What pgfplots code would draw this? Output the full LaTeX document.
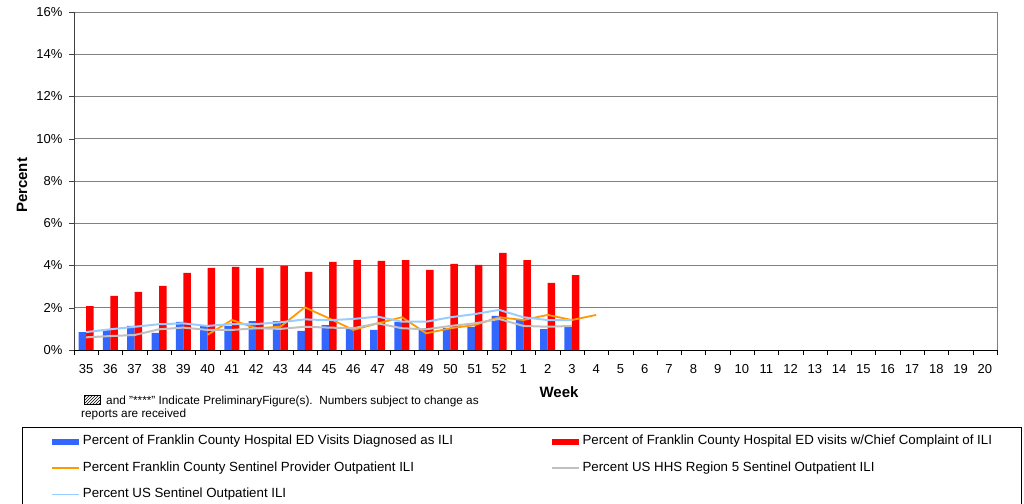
\documentclass[border=0pt]{standalone}
\usepackage{fontspec}
\setmainfont{Liberation Sans}
\usepackage{pgfplots}
\pgfplotsset{compat=1.18}
\usetikzlibrary{patterns}

\definecolor{edblue}{HTML}{3366FF}
\definecolor{edred}{HTML}{FF0000}
\definecolor{senorange}{HTML}{FF9900}
\definecolor{hhsgrey}{HTML}{C0C0C0}
\definecolor{usblue}{HTML}{99CCFF}
\definecolor{gridgrey}{HTML}{808080}

\begin{document}
\begin{tikzpicture}
\path[use as bounding box] (0,0) rectangle (1024pt,503pt);
\begin{axis}[
  at={(74pt,153pt)}, anchor=south west,
  scale only axis, width=923pt, height=338pt,
  xmin=-0.5, xmax=37.5, ymin=0, ymax=16,
  axis x line*=bottom, axis y line*=left,
  x axis line style={black, -}, y axis line style={black!75, -},
  xtick={0,...,37},
  xticklabels={35,36,37,38,39,40,41,42,43,44,45,46,47,48,49,50,51,52,1,2,3,4,5,6,7,8,9,10,11,12,13,14,15,16,17,18,19,20},
  major x tick style={draw=none},
  minor xtick={-0.5,0.5,...,37.5},
  minor tick length=5pt, major tick length=5pt,
  tick align=outside,
  minor x tick style={black},
  ytick={0,2,...,16},
  yticklabel={\pgfmathprintnumber{\tick}\%},
  major y tick style={black!75},
  ymajorgrids, major grid style={gridgrey, line width=0.8pt},
  extra x ticks={37.5}, extra x tick labels={},
  extra x tick style={grid=major, major grid style={gridgrey, line width=0.8pt}, major tick length=0pt},
  /pgf/number format/assume math mode=true,
  tick label style={font=\fontsize{13}{15}\selectfont},
  xticklabel style={yshift=-6pt},
  yticklabel style={xshift=-3pt},
  xlabel={\textbf{Week}},
  xlabel style={at={(axis description cs:0.5255,0)}, anchor=base, yshift=-47pt, font=\fontsize{15}{17}\selectfont},
  ylabel={\textbf{Percent}},
  ylabel style={at={(axis description cs:-0.05634,0.487)}, anchor=center, font=\fontsize{15}{17}\selectfont},
  legend columns=2,
  legend cell align=left,
  legend style={at={(-0.05634,-0.2278)}, anchor=north west, draw=black, line width=0.8pt,
    inner xsep=29pt, inner ysep=8pt, row sep=14pt,
    nodes={inner sep=0pt, text height=9.5pt, text depth=3pt, font=\fontsize{13.3}{15}\selectfont},
    /tikz/every odd column/.append style={column sep=3pt},
    /tikz/every even column/.append style={column sep=98pt}},
]
\addplot[ybar, bar width=7.5pt, bar shift=-3.75pt, fill=edblue, draw=none,
  legend image code/.code={\fill[edblue] (0pt,-3pt) rectangle (27pt,3pt);}]
  coordinates {(0,0.85)(1,0.95)(2,1.14)(3,0.81)(4,1.33)(5,1.14)(6,1.14)(7,1.37)(8,1.37)(9,0.90)
    (10,1.18)(11,1.04)(12,0.95)(13,1.33)(14,1.04)(15,1.04)(16,1.09)(17,1.61)(18,1.42)(19,0.99)(20,1.09)};
\addlegendentry{Percent of Franklin County Hospital ED Visits Diagnosed as ILI}
\addplot[ybar, bar width=7.5pt, bar shift=3.75pt, fill=edred, draw=none,
  legend image code/.code={\fill[edred] (0pt,-3pt) rectangle (27pt,3pt);}]
  coordinates {(0,2.08)(1,2.56)(2,2.75)(3,3.03)(4,3.65)(5,3.89)(6,3.93)(7,3.89)(8,3.98)(9,3.70)
    (10,4.17)(11,4.26)(12,4.22)(13,4.26)(14,3.79)(15,4.08)(16,4.03)(17,4.60)(18,4.26)(19,3.18)(20,3.55)};
\addlegendentry{Percent of Franklin County Hospital ED visits w/Chief Complaint of ILI}
\addplot[senorange, line width=1.8pt, no marks,
  legend image code/.code={\draw[senorange, line width=1.5pt] (0pt,0pt) -- (27pt,0pt);}]
  coordinates {(5,0.72)(6,1.42)(7,1.03)(8,1.10)(9,2.02)(10,1.50)(11,0.95)(12,1.26)(13,1.55)
    (14,0.79)(15,1.03)(16,1.18)(17,1.55)(18,1.42)(19,1.66)(20,1.42)(21,1.66)};
\addlegendentry{Percent Franklin County Sentinel Provider Outpatient ILI}
\addplot[hhsgrey, line width=2pt, no marks,
  legend image code/.code={\draw[hhsgrey, line width=1.5pt] (0pt,0pt) -- (27pt,0pt);}]
  coordinates {(0,0.60)(1,0.66)(2,0.71)(3,0.98)(4,1.06)(5,0.95)(6,0.95)(7,1.03)(8,1.00)(9,1.10)
    (10,1.06)(11,1.03)(12,1.26)(13,1.03)(14,0.98)(15,1.14)(16,1.26)(17,1.47)(18,1.14)(19,1.10)(20,1.14)};
\addlegendentry{Percent US HHS Region 5 Sentinel Outpatient ILI}
\addplot[usblue, line width=2pt, no marks,
  legend image code/.code={\draw[usblue, line width=1.5pt] (0pt,0pt) -- (27pt,0pt);}]
  coordinates {(0,0.85)(1,0.98)(2,1.10)(3,1.22)(4,1.26)(5,1.14)(6,1.23)(7,1.23)(8,1.31)(9,1.45)
    (10,1.41)(11,1.47)(12,1.58)(13,1.34)(14,1.34)(15,1.55)(16,1.70)(17,1.90)(18,1.55)(19,1.42)(20,1.42)};
\addlegendentry{Percent US Sentinel Outpatient ILI}
\end{axis}
\draw[black, line width=0.6pt, pattern=north east lines] (84pt,98.3pt) rectangle (100pt,107.7pt);
\node[anchor=base west, inner sep=0pt, font=\fontsize{11.8}{13}\selectfont] at (106pt,98pt)
  {and "****" Indicate PreliminaryFigure(s).\ \ Numbers subject to change as};
\node[anchor=base west, inner sep=0pt, font=\fontsize{11.8}{13}\selectfont] at (81pt,85.5pt)
  {reports are received};
\end{tikzpicture}
\end{document}
